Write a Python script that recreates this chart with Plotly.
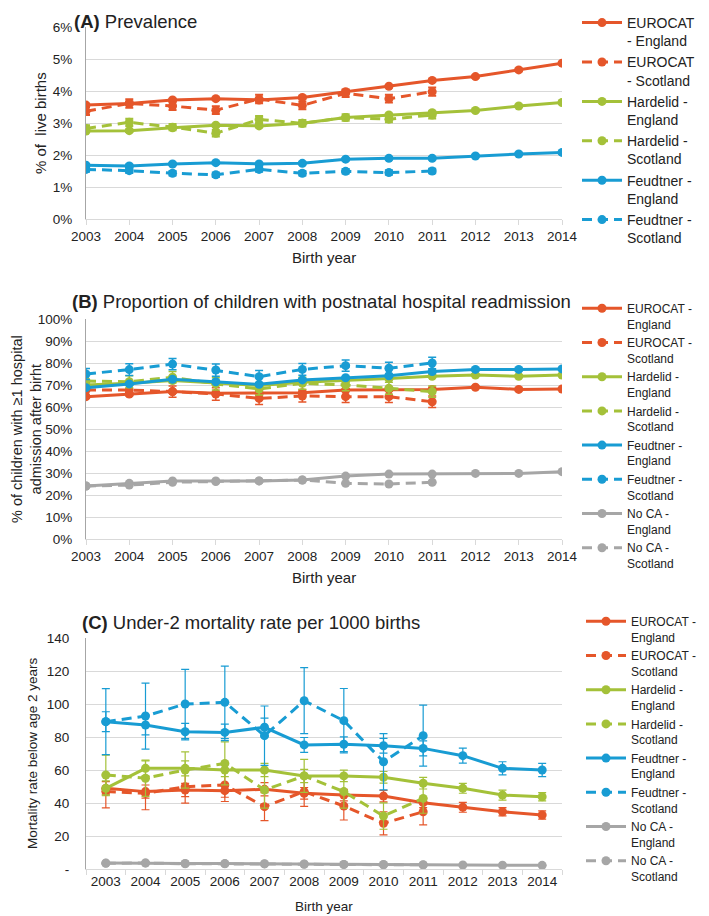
import plotly.graph_objects as go

# ---- data -------------------------------------------------------------
years = list(range(2003, 2015))
years_sc = list(range(2003, 2012))

# (A) prevalence, % of live births
prev_euro_eng = [3.56, 3.61, 3.72, 3.76, 3.72, 3.80, 3.98, 4.15, 4.33, 4.45, 4.66, 4.87]
prev_euro_sco = [3.37, 3.61, 3.53, 3.40, 3.75, 3.55, 3.93, 3.76, 3.98]
prev_hard_eng = [2.75, 2.76, 2.85, 2.93, 2.91, 2.99, 3.17, 3.25, 3.32, 3.39, 3.53, 3.64]
prev_hard_sco = [2.83, 3.02, 2.87, 2.68, 3.11, 2.99, 3.17, 3.12, 3.25]
prev_feud_eng = [1.68, 1.66, 1.72, 1.76, 1.72, 1.74, 1.87, 1.90, 1.90, 1.97, 2.03, 2.08]
prev_feud_sco = [1.55, 1.51, 1.43, 1.38, 1.55, 1.43, 1.49, 1.45, 1.50]
prev_err_eng = [0.04] * 12
prev_err_euro_sco = [0.12, 0.13, 0.12, 0.12, 0.13, 0.12, 0.12, 0.12, 0.13]
prev_err_hard_sco = [0.10, 0.11, 0.10, 0.10, 0.11, 0.10, 0.10, 0.10, 0.11]
prev_err_feud_sco = [0.07] * 9

# (B) proportion readmitted, %
read_euro_eng = [64.7, 65.9, 67.0, 66.2, 66.2, 66.5, 67.7, 68.0, 68.0, 69.0, 68.0, 68.2]
read_euro_sco = [67.7, 67.7, 67.0, 65.9, 63.9, 65.0, 64.7, 64.7, 62.4]
read_hard_eng = [70.0, 70.8, 72.0, 71.0, 69.8, 71.2, 72.0, 73.0, 74.0, 74.5, 74.0, 74.5]
read_hard_sco = [71.8, 71.5, 73.5, 70.5, 68.2, 70.8, 70.0, 68.5, 67.0]
read_feud_eng = [68.8, 70.5, 72.6, 71.5, 70.3, 72.3, 73.3, 74.2, 76.1, 77.1, 77.1, 77.3]
read_feud_sco = [75.0, 77.0, 79.5, 76.8, 73.8, 77.1, 78.8, 77.6, 80.0]
read_noca_eng = [24.1, 25.3, 26.4, 26.4, 26.4, 26.8, 28.6, 29.5, 29.5, 29.8, 29.8, 30.6]
read_noca_sco = [24.1, 24.5, 25.8, 26.1, 26.4, 26.8, 25.3, 25.0, 25.8]
read_err_eng = [0.6] * 12
read_err_sco = [2.5, 2.7, 2.6, 2.8, 2.8, 2.7, 2.6, 2.7, 2.6]
read_err_noca = [0.2] * 12

# (C) under-2 mortality per 1000 births
mort_euro_eng = [48.9, 46.9, 47.9, 47.5, 48.3, 45.9, 44.8, 44.2, 40.2, 37.4, 34.7, 32.7]
mort_euro_sco = [47.0, 45.9, 49.9, 50.9, 37.8, 46.9, 38.2, 27.7, 34.7]
mort_hard_eng = [48.9, 61.0, 61.0, 60.0, 60.0, 56.4, 56.4, 55.6, 52.0, 48.9, 44.8, 43.8]
mort_hard_sco = [57.0, 55.0, 60.0, 64.0, 47.9, 56.4, 46.9, 32.1, 42.8]
mort_feud_eng = [89.3, 87.3, 83.2, 82.8, 85.9, 75.2, 75.6, 74.7, 73.1, 68.7, 61.0, 60.0]
mort_feud_sco = [89.3, 92.7, 100.0, 101.0, 80.8, 102.0, 89.9, 65.0, 80.8]
mort_noca_eng = [3.6, 3.7, 3.4, 3.3, 3.2, 3.0, 2.8, 2.7, 2.6, 2.4, 2.3, 2.2]
mort_noca_sco = [3.5, 3.6, 3.2, 3.2, 3.1, 2.9, 2.7, 2.6, 2.5]
mort_err_euro_eng = [4.0, 4.0, 4.0, 4.0, 4.0, 3.5, 3.5, 3.5, 3.0, 3.0, 2.5, 2.5]
mort_err_euro_sco = [10.0, 10.0, 10.0, 10.0, 8.5, 9.0, 8.5, 7.0, 8.0]
mort_err_hard_eng = [4.5, 4.5, 4.5, 4.0, 4.0, 4.0, 3.5, 3.5, 3.5, 3.0, 3.0, 2.5]
mort_err_hard_sco = [12.0, 11.0, 11.0, 13.0, 11.0, 10.0, 10.0, 8.0, 9.0]
mort_err_feud_eng = [6.0, 6.0, 5.0, 5.0, 5.5, 4.5, 4.5, 4.5, 4.5, 4.5, 4.0, 4.0]
mort_err_feud_sco = [20.0, 20.0, 21.0, 22.0, 18.0, 20.0, 19.5, 17.0, 18.5]
mort_err_noca = [0.3] * 12

ORANGE = '#E5562A'
GREEN = '#A4C139'
BLUE = '#189CD3'
GREY = '#A6A6A6'
FONT = 'Liberation Sans, Arial, sans-serif'
# the page has an 8px body margin, so the figure is a bit smaller than the window
PAGE_OFF = 8
W, H = 701, 908

fig = go.Figure()


def add(name, x, y, err, color, dash, n, err_w):
    fig.add_trace(go.Scatter(
        x=x, y=y, name=name, mode='lines+markers',
        line=dict(color=color, width=3, dash=dash),
        marker=dict(size=9, color=color),
        error_y=dict(type='data', array=err, color=color, thickness=err_w, width=4),
        xaxis='x' if n == 1 else f'x{n}', yaxis='y' if n == 1 else f'y{n}',
        legend='legend' if n == 1 else f'legend{n}',
    ))


DASH = '10px,6px'
# panel A
add('EUROCAT<br>- England', years, prev_euro_eng, prev_err_eng, ORANGE, 'solid', 1, 2)
add('EUROCAT<br>- Scotland', years_sc, prev_euro_sco, prev_err_euro_sco, ORANGE, DASH, 1, 2)
add('Hardelid -<br>England', years, prev_hard_eng, prev_err_eng, GREEN, 'solid', 1, 2)
add('Hardelid -<br>Scotland', years_sc, prev_hard_sco, prev_err_hard_sco, GREEN, DASH, 1, 2)
add('Feudtner -<br>England', years, prev_feud_eng, prev_err_eng, BLUE, 'solid', 1, 2)
add('Feudtner -<br>Scotland', years_sc, prev_feud_sco, prev_err_feud_sco, BLUE, DASH, 1, 2)
# panel B
add('EUROCAT -<br>England', years, read_euro_eng, read_err_eng, ORANGE, 'solid', 2, 1.5)
add('EUROCAT -<br>Scotland', years_sc, read_euro_sco, read_err_sco, ORANGE, DASH, 2, 1.5)
add('Hardelid -<br>England', years, read_hard_eng, read_err_eng, GREEN, 'solid', 2, 1.5)
add('Hardelid -<br>Scotland', years_sc, read_hard_sco, read_err_sco, GREEN, DASH, 2, 1.5)
add('Feudtner -<br>England', years, read_feud_eng, read_err_eng, BLUE, 'solid', 2, 1.5)
add('Feudtner -<br>Scotland', years_sc, read_feud_sco, read_err_sco, BLUE, DASH, 2, 1.5)
add('No CA -<br>England', years, read_noca_eng, read_err_noca, GREY, 'solid', 2, 1.5)
add('No CA -<br>Scotland', years_sc, read_noca_sco, read_err_noca, GREY, DASH, 2, 1.5)
# panel C
add('EUROCAT -<br>England', years, mort_euro_eng, mort_err_euro_eng, ORANGE, 'solid', 3, 1.2)
add('EUROCAT -<br>Scotland', years_sc, mort_euro_sco, mort_err_euro_sco, ORANGE, DASH, 3, 1.2)
add('Hardelid -<br>England', years, mort_hard_eng, mort_err_hard_eng, GREEN, 'solid', 3, 1.2)
add('Hardelid -<br>Scotland', years_sc, mort_hard_sco, mort_err_hard_sco, GREEN, DASH, 3, 1.2)
add('Feudtner -<br>England', years, mort_feud_eng, mort_err_feud_eng, BLUE, 'solid', 3, 1.2)
add('Feudtner -<br>Scotland', years_sc, mort_feud_sco, mort_err_feud_sco, BLUE, DASH, 3, 1.2)
add('No CA -<br>England', years, mort_noca_eng, mort_err_noca, GREY, 'solid', 3, 1.2)
add('No CA -<br>Scotland', years_sc, mort_noca_sco, mort_err_noca, GREY, DASH, 3, 1.2)


def px_x(v):
    return (v - PAGE_OFF) / W


def px_y(v):
    return 1 - (v - PAGE_OFF) / H


xdom = [px_x(86), px_x(562)]
tickfont = dict(family=FONT, size=13.5, color='#222')
xcommon = dict(domain=xdom, tickvals=years, showgrid=False, showline=True, automargin=False,
               linecolor='#D9D9D9', tickfont=tickfont, zeroline=False, fixedrange=True)
ycommon = dict(showgrid=True, gridcolor='#D9D9D9', gridwidth=1, showline=True, automargin=False,
               linecolor='#A6A6A6', tickfont=tickfont, zeroline=False, ticks='',
               fixedrange=True)
legfont = dict(family=FONT, size=12, color='#222')

fig.update_layout(
    width=W, height=H, margin=dict(l=0, r=0, t=0, b=0, autoexpand=False),
    paper_bgcolor='white', plot_bgcolor='white',
    font=dict(family=FONT, color='#222'),
    hovermode=False,
    xaxis=dict(**xcommon, anchor='y', range=[2003, 2014], ticks='outside', ticklen=5,
               tickcolor='#D9D9D9'),
    yaxis=dict(**ycommon, anchor='x', domain=[px_y(219), px_y(27)], range=[0, 6],
               dtick=1, ticksuffix='%', ticklabelstandoff=10),
    xaxis2=dict(**xcommon, anchor='y2', range=[2003, 2014], ticks='outside', ticklen=5,
                tickcolor='#D9D9D9'),
    yaxis2=dict(**ycommon, anchor='x2', domain=[px_y(539), px_y(319)], range=[0, 100],
                dtick=10, ticksuffix='%', ticklabelstandoff=10),
    xaxis3=dict(**xcommon, anchor='y3', range=[2002.5, 2014.5], ticks='',
                minor=dict(dtick=1, tick0=2002.5, ticks='outside', ticklen=5,
                           tickcolor='#D9D9D9')),
    yaxis3=dict(**ycommon, anchor='x3', domain=[px_y(869), px_y(638)], range=[0, 140],
                tickvals=[0, 20, 40, 60, 80, 100, 120, 140],
                ticktext=['-', '20', '40', '60', '80', '100', '120', '140'],
                ticklabelstandoff=13),
    legend=dict(x=px_x(577), y=px_y(7), xanchor='left', yanchor='top', valign='top',
                itemwidth=40, font=dict(family=FONT, size=14, color='#222'),
                bgcolor='rgba(0,0,0,0)'),
    legend2=dict(x=px_x(577), y=px_y(294), xanchor='left', yanchor='top', valign='top',
                 itemwidth=40, font=legfont, bgcolor='rgba(0,0,0,0)'),
    legend3=dict(x=px_x(581), y=px_y(607), xanchor='left', yanchor='top', valign='top',
                 itemwidth=40, font=legfont, bgcolor='rgba(0,0,0,0)'),
)

titles = [
    ('<b>(A)</b> Prevalence', 72, 21),
    ('<b>(B)</b> Proportion of children with postnatal hospital readmission', 70, 302),
    ('<b>(C)</b> Under-2 mortality rate per 1000 births', 80, 622),
]
for text, x, y in titles:
    fig.add_annotation(text=text, x=px_x(x), y=px_y(y), xref='paper', yref='paper',
                       xanchor='left', yanchor='middle', showarrow=False,
                       font=dict(family=FONT, size=18.5, color='#222'))

for y, size in [(257, 15), (577, 15), (906, 13.5)]:
    fig.add_annotation(text='Birth year', x=px_x(324), y=px_y(y), xref='paper', yref='paper',
                       xanchor='center', yanchor='middle', showarrow=False,
                       font=dict(family=FONT, size=size, color='#222'))

ytitles = [
    ('% of  live births', 40, 123, 15),
    ('% of children with ≥1 hospital<br>admission after birht', 26, 429, 14.5),
    ('Mortality rate below age 2 years', 32, 753, 13.5),
]
for text, x, y, size in ytitles:
    fig.add_annotation(text=text, x=px_x(x), y=px_y(y), xref='paper', yref='paper',
                       xanchor='center', yanchor='middle', showarrow=False, textangle=-90,
                       font=dict(family=FONT, size=size, color='#222'))

fig.write_html('out.html')
